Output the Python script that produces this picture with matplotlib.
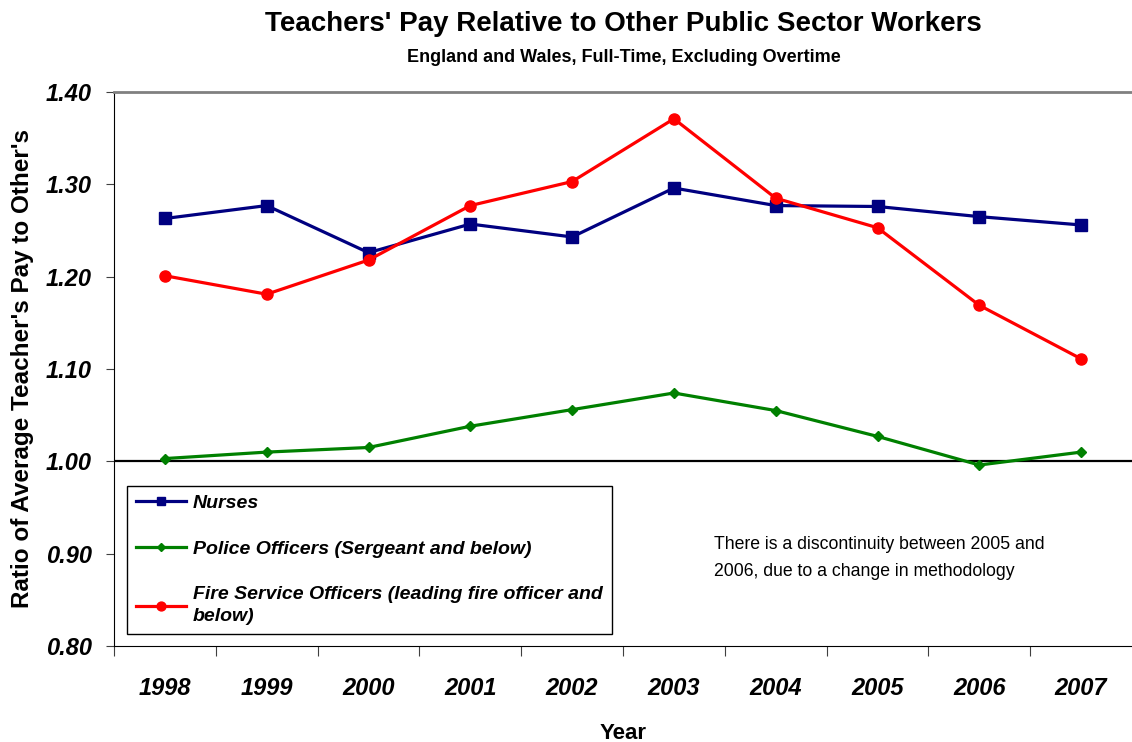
import numpy as np
import matplotlib.pyplot as plt
from matplotlib.ticker import FormatStrFormatter

plt.rcParams['font.family'] = ['Liberation Sans', 'DejaVu Sans']

years = ['1998', '1999', '2000', '2001', '2002', '2003', '2004', '2005', '2006', '2007']
nurses = [1.263, 1.277, 1.226, 1.257, 1.243, 1.296, 1.277, 1.276, 1.265, 1.256]
police = [1.003, 1.010, 1.015, 1.038, 1.056, 1.074, 1.055, 1.027, 0.996, 1.010]
fire = [1.201, 1.181, 1.218, 1.277, 1.303, 1.371, 1.285, 1.253, 1.169, 1.111]

labels = ['Nurses',
          'Police Officers (Sergeant and below)',
          'Fire Service Officers (leading fire officer and\nbelow)']

x = np.arange(len(years))

fig = plt.figure(figsize=(11.32, 7.42), dpi=100)
ax = fig.add_axes([114 / 1132, 96 / 742, 1018 / 1132, 554 / 742])

ax.plot(x, nurses, color='#000080', lw=2.3, marker='s', ms=8, label=labels[0])
ax.plot(x, police, color='#008000', lw=2.3, marker='D', ms=5.5, label=labels[1])
ax.plot(x, fire, color='#ff0000', lw=2.3, marker='o', ms=8, label=labels[2])
ax.axhline(1.0, color='black', lw=1.6, zorder=1)

ax.set_xlim(-0.5, len(years) - 0.5)
ax.set_ylim(0.80, 1.40)

# tick marks sit between the categories, labels on them
ax.set_xticks(np.arange(len(years)) - 0.5)
ax.set_xticklabels([])
ax.set_xticks(x, minor=True)
ax.set_xticklabels(years, minor=True, fontsize=17, fontweight='bold', fontstyle='italic')
ax.tick_params(axis='x', which='major', direction='out', length=7, color='#404040')
ax.tick_params(axis='x', which='minor', length=0, pad=22)

ax.set_yticks(np.arange(0.80, 1.401, 0.10))
ax.yaxis.set_major_formatter(FormatStrFormatter('%.2f'))
ax.tick_params(axis='y', direction='out', length=6, color='#404040', pad=10)
for t in ax.get_yticklabels():
    t.set_fontsize(17)
    t.set_fontweight('bold')
    t.set_fontstyle('italic')

ax.spines['right'].set_visible(False)
ax.spines['top'].set_color('#808080')
ax.spines['top'].set_linewidth(2)
ax.spines['left'].set_color('black')
ax.spines['bottom'].set_color('black')

ax.set_xlabel('Year', fontsize=16, fontweight='bold', labelpad=17)
ax.set_ylabel("Ratio of Average Teacher's Pay to Other's", fontsize=17.5, fontweight='bold')
ax.yaxis.set_label_coords(-80 / 1018, 0.5)

fig.text(0.551, 0.968, "Teachers' Pay Relative to Other Public Sector Workers",
         ha='center', va='center', fontsize=20, fontweight='bold')
fig.text(0.551, 0.923, 'England and Wales, Full-Time, Excluding Overtime',
         ha='center', va='center', fontsize=13, fontweight='bold')

leg = ax.legend(loc='upper left', bbox_to_anchor=(0.0128, 0.289), borderaxespad=0,
                fancybox=False, edgecolor='black', framealpha=1,
                prop={'size': 14, 'weight': 'bold', 'style': 'italic'},
                handlelength=2.6, handletextpad=0.35, labelspacing=1.45,
                borderpad=0.45, markerscale=0.8)
leg.get_frame().set_linewidth(1.0)
leg.get_texts()[2].set_linespacing(1.4)

ax.text(0.589, 0.159, 'There is a discontinuity between 2005 and\n2006, due to a change in methodology',
        transform=ax.transAxes, fontsize=12.7, va='center', ha='left', linespacing=1.8)

fig.savefig('out.png', dpi=100)
